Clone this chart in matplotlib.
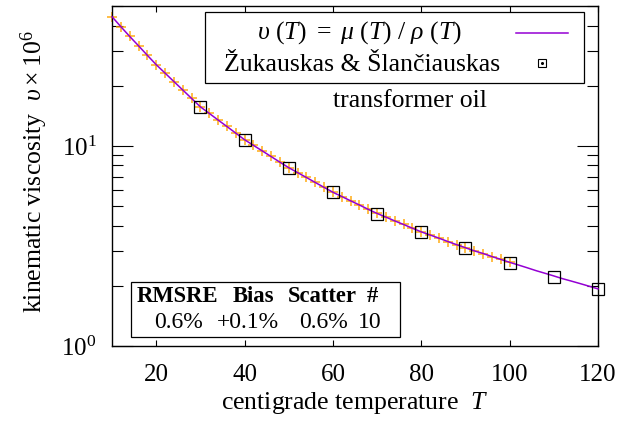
import matplotlib
matplotlib.use("Agg")
import matplotlib.pyplot as plt
from matplotlib.patches import Rectangle
from matplotlib.lines import Line2D
import numpy as np

plt.rcParams['font.family'] = ['Liberation Serif', 'DejaVu Serif']
plt.rcParams['mathtext.fontset'] = 'custom'
plt.rcParams['mathtext.rm'] = 'Liberation Serif'
plt.rcParams['mathtext.it'] = 'Liberation Serif:italic'
plt.rcParams['mathtext.bf'] = 'Liberation Serif:bold'

# ---- data ----
# model curve nu(T) = mu(T)/rho(T)
curve_T = [10, 12, 14, 16, 18, 20, 22, 24, 26, 28, 30, 32, 34, 36, 38, 40,
           42, 44, 46, 48, 50, 52, 54, 56, 58, 60, 62, 64, 66, 68, 70, 72,
           74, 76, 78, 80, 82, 84, 86, 88, 90, 92, 94, 96, 98, 100, 102, 104,
           106, 108, 110, 112, 114, 116, 118, 120]
curve_nu = [44.3, 39.5, 35.3, 31.7, 28.4, 25.5, 23.15, 21.0, 19.07, 17.30,
            15.70, 14.56, 13.49, 12.52, 11.60, 10.75, 10.08, 9.45, 8.86, 8.30,
            7.79, 7.36, 6.96, 6.57, 6.21, 5.87, 5.59, 5.32, 5.07, 4.82, 4.60,
            4.41, 4.22, 4.05, 3.88, 3.72, 3.59, 3.46, 3.33, 3.21, 3.10, 2.99,
            2.90, 2.80, 2.71, 2.62, 2.54, 2.46, 2.38, 2.31, 2.24, 2.17, 2.11,
            2.05, 1.99, 1.93]
# orange "+" points
plus_T = [10, 12, 14, 16, 18, 20, 22, 24, 26, 28, 30, 32, 34, 36, 38, 40,
          42, 44, 46, 48, 50, 52, 54, 56, 58, 60, 62, 64, 66, 68, 70, 72,
          74, 76, 78, 80, 82, 84, 86, 88, 90, 92, 94, 96, 98, 100]
plus_nu = [44.3, 39.5, 35.3, 31.7, 28.4, 25.5, 23.15, 21.0, 19.07, 17.30,
           15.70, 14.56, 13.49, 12.52, 11.60, 10.75, 10.08, 9.45, 8.86, 8.30,
           7.79, 7.36, 6.96, 6.57, 6.21, 5.87, 5.59, 5.32, 5.07, 4.82, 4.60,
           4.41, 4.22, 4.05, 3.88, 3.72, 3.59, 3.46, 3.33, 3.21, 3.10, 2.99,
           2.90, 2.80, 2.71, 2.62]
# Zukauskas & Slanciauskas data
zs_T = [30, 40, 50, 60, 70, 80, 90, 100, 110, 120]
zs_nu = [15.7, 10.75, 7.79, 5.87, 4.57, 3.73, 3.08, 2.61, 2.22, 1.93]

x_ticks = [20, 40, 60, 80, 100, 120]
stats_header = ["RMSRE", "Bias", "Scatter", "#"]
stats_values = ["0.6%", "+0.1%", "0.6%", "10"]

W, H = 632, 425
fig = plt.figure(figsize=(W / 100, H / 100), dpi=100)

def fx(x):
    return x / W

def fy(y):
    return 1 - y / H

L, R, T, B = 112, 598, 6, 346
ax = fig.add_axes([fx(L), fy(B), (R - L) / W, (B - T) / H])

FS = 18.5
purple = '#9400D3'
orange = '#FFA500'

ax.plot(plus_T, plus_nu, linestyle='none', marker='+', markersize=7.5,
        mew=1.2, color=orange, alpha=0.85, zorder=2, clip_on=False)
ax.plot(curve_T, curve_nu, color=purple, lw=1.1, zorder=3, clip_on=False)
ax.plot(zs_T, zs_nu, linestyle='none', marker='s', markersize=8,
        mfc='none', mec='black', mew=0.9, zorder=4, clip_on=False)

ax.set_yscale('log')
ax.set_xlim(10, 120)
ax.set_ylim(1, 50.1)
ax.set_xticks(x_ticks)
ax.set_xticklabels([str(t) for t in x_ticks])

ax.tick_params(axis='x', which='major', direction='in', length=4.3, width=0.8,
               top=True, bottom=True, labelsize=18, pad=13, colors='black')
ax.tick_params(axis='x', which='minor', bottom=False, top=False)
ax.tick_params(axis='y', which='major', direction='in', length=15, width=0.8,
               left=True, right=True, labelsize=18, pad=11)
ax.tick_params(axis='y', which='minor', direction='in', length=8, width=0.8,
               left=True, right=True)
for s in ax.spines.values():
    s.set_linewidth(1.0)

# axis labels
fig.text(fx(355), fy(403), r"centigrade temperature  $T$", fontsize=FS,
         ha='center', va='center')
fig.text(fx(34), fy(172), r"kinematic viscosity  $\upsilon\times10^{6}$",
         fontsize=FS, ha='center', va='center', rotation=90)

# key box
fig.patches.append(Rectangle((fx(205), fy(83)), (584 - 205) / W, (83 - 12) / H,
                             transform=fig.transFigure, fill=True, fc='white',
                             ec='black', lw=0.9, zorder=5))
fig.text(fx(462), fy(33), r"$\upsilon\ (T)\ =\ \mu\ (T)\ /\ \rho\ (T)$",
         fontsize=FS, ha='right', va='center', zorder=6)
fig.text(fx(500), fy(65), "Žukauskas & Šlančiauskas", fontsize=FS,
         ha='right', va='center', zorder=6)
fig.lines.append(Line2D([fx(516), fx(568)], [fy(33), fy(33)],
                        transform=fig.transFigure, color=purple, lw=1.1,
                        zorder=6))
fig.lines.append(Line2D([fx(542)], [fy(63)], transform=fig.transFigure,
                        marker='s', markersize=5.5, mfc='none', mec='black',
                        mew=0.8, linestyle='none', zorder=6))
fig.lines.append(Line2D([fx(542)], [fy(63)], transform=fig.transFigure,
                        marker='o', markersize=1.2, mfc='black', mec='black',
                        linestyle='none', zorder=6))

# annotation
fig.text(fx(333), fy(101), "transformer oil", fontsize=FS, ha='left',
         va='center')

# statistics box
fig.patches.append(Rectangle((fx(131), fy(337)), (400 - 131) / W, (337 - 282) / H,
                             transform=fig.transFigure, fill=True, fc='white',
                             ec='black', lw=0.9, zorder=5))
for word, x0 in zip(stats_header, [137, 233, 288, 367]):
    fig.text(fx(x0), fy(297), word, fontsize=16.3, fontweight='bold',
             ha='left', va='center', zorder=6)
for word, x0 in zip(stats_values, [154, 217, 299, 358]):
    fig.text(fx(x0), fy(322), word, fontsize=17, ha='left',
             va='center', zorder=6)

fig.savefig("out.png", dpi=100)
